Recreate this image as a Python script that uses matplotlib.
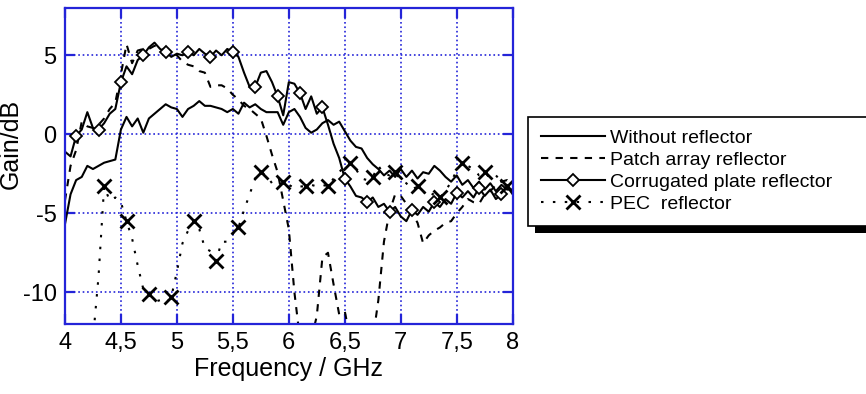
import numpy as np
import matplotlib
matplotlib.use("Agg")
import matplotlib.pyplot as plt
from matplotlib.patches import Rectangle

plt.rcParams['font.family'] = ['Liberation Sans', 'DejaVu Sans']
plt.rcParams['axes.unicode_minus'] = False

# frequency grid (GHz), step 0.05
freq = np.round(np.arange(4.0, 8.0001, 0.05), 2)

without = [-5.7, -3.8, -2.9, -2.7, -2.0, -2.2, -2.0, -1.8, -1.7, -1.6,
           0.3, 1.1, 0.5, 1.0, 0.1, 1.0, 1.3, 1.6, 1.9, 1.7,
           1.6, 1.1, 1.6, 1.8, 2.1, 1.8, 1.8, 1.7, 1.6, 1.4,
           1.6, 1.3, 2.0, 1.7, 1.9, 1.6, 1.4, 1.4, 1.4, 0.6,
           1.4, 1.6, 1.1, 0.4, 0.1, 0.3, 0.7, 0.9, 0.6, 0.8,
           0.2, -0.4, -0.8, -0.9, -1.5, -1.9, -2.2, -2.6, -2.3, -2.7,
           -2.2, -2.7, -2.3, -2.8, -2.4, -2.5, -2.0, -2.3, -2.7, -3.0,
           -2.6, -3.2, -2.9, -3.4, -3.0, -3.5, -3.1, -3.6, -3.2, -3.5,
           -3.5]

patch = [-4.2, -2.0, -1.0, 0.8, 0.5, 0.4, 0.6, 1.0, 1.6, 2.0,
         3.8, 5.7, 4.5, 5.3, 5.4, 5.4, 5.6, 5.5, 5.3, 5.2,
         5.0, 4.6, 4.4, 4.3, 4.0, 3.9, 3.0, 3.1, 3.1, 2.9,
         2.5, 2.2, 1.8, 1.6, 1.3, 1.0, -0.1, -1.3, -2.4, -4.2,
         -6.0, -10.0, -13.0, -13.0, -13.0, -11.5, -7.8, -7.5, -9.5, -11.4,
         -11.2, -13.0, -13.0, -13.0, -13.0, -13.0, -10.5, -6.8, -4.9, -3.8,
         -3.9, -4.4, -5.0, -5.6, -6.9, -6.4, -6.1, -5.9, -5.6, -5.5,
         -5.0, -4.6, -4.1, -4.3, -4.4, -3.8, -3.6, -3.2, -3.0, -2.9,
         -3.2]

corrugated = [-1.1, -1.4, -0.1, 0.3, 1.4, 0.4, 0.3, 0.7, 1.3, 1.6,
              3.3, 4.3, 3.8, 4.7, 5.0, 5.5, 5.8, 5.4, 5.2, 4.9,
              5.1, 5.0, 5.2, 5.0, 5.4, 5.1, 4.9, 5.3, 5.0, 5.4,
              5.2, 4.9, 3.9, 3.0, 3.0, 3.9, 4.0, 3.3, 2.4, 1.2,
              3.3, 3.2, 2.6, 1.6, 2.4, 1.3, 1.7, 0.6, -0.6, -1.5,
              -2.8, -3.3, -3.9, -4.0, -4.3, -4.0, -4.6, -4.4, -4.9, -4.6,
              -5.2, -5.5, -4.8, -5.1, -4.6, -4.9, -4.3, -4.6, -4.1, -4.4,
              -3.7, -4.0, -3.6, -4.0, -3.4, -3.9, -3.5, -4.1, -3.8, -3.3,
              -3.8]

pec = [-13.0, -13.0, -13.0, -13.0, -13.0, -13.0, -9.0, -3.3, -4.2, -4.0,
       -4.3, -5.5, -6.6, -8.3, -9.8, -10.1, -10.6, -10.5, -10.7, -10.3,
       -8.7, -6.9, -6.1, -5.5, -6.0, -7.2, -7.4, -8.0, -6.8, -6.8,
       -6.3, -5.9, -4.8, -3.8, -2.8, -2.4, -2.6, -3.1, -3.3, -3.0,
       -3.2, -3.4, -3.3, -3.3, -3.2, -3.3, -3.2, -3.3, -2.8, -2.4,
       -2.0, -1.8, -2.2, -2.8, -2.9, -2.7, -2.0, -2.5, -2.6, -2.4,
       -2.9, -3.1, -3.5, -3.3, -3.6, -4.0, -3.7, -4.0, -3.6, -3.0,
       -2.3, -1.8, -2.0, -2.2, -2.6, -2.4, -2.8, -2.6, -3.0, -3.3,
       -3.0]

xticks = [4, 4.5, 5, 5.5, 6, 6.5, 7, 7.5, 8]
xticklabels = ["4", "4,5", "5", "5,5", "6", "6,5", "7", "7,5", "8"]
yticks = [-10, -5, 0, 5]

blue = '#2424d8'

fig = plt.figure(figsize=(8.66, 3.94), dpi=100)
ax = fig.add_axes([0.075, 0.178, 0.517, 0.802])

ax.plot(freq, without, color='k', lw=1.5, label='Without reflector')
ax.plot(freq, patch, color='k', lw=1.5, ls=(0, (3.5, 3.5)),
        label='Patch array reflector')
ax.plot(freq, corrugated, color='k', lw=1.5, marker='D', markersize=6.5,
        markerfacecolor='white', markeredgewidth=1.3, markevery=(2, 4),
        label='Corrugated plate reflector')
ax.plot(freq, pec, color='k', lw=1.5, ls=(0, (1.2, 4.5)), marker='x',
        markersize=10, markeredgewidth=2, markevery=(7, 4),
        label='PEC  reflector')

ax.set_xlim(4, 8)
ax.set_ylim(-12, 8)
ax.set_xticks(xticks)
ax.set_xticklabels(xticklabels)
ax.set_yticks(yticks)
ax.grid(True, color=blue, ls=':', lw=1.2)
ax.set_axisbelow(True)
for s in ax.spines.values():
    s.set_color(blue)
    s.set_linewidth(1.6)
ax.tick_params(direction='in', length=7, width=1.6, color=blue,
               top=True, right=True, labelsize=17, pad=6)

ax.set_xlabel("Frequency / GHz", fontsize=18, labelpad=2)
ax.set_ylabel("Gain/dB", fontsize=18)
ax.yaxis.set_label_coords(-0.095, 0.57)

leg = fig.legend(loc='upper left', bbox_to_anchor=(0.6097, 0.703, 0.40, 0.0),
                 mode='expand', fontsize=14, numpoints=1,
                 handlelength=3.3, handletextpad=0.25, labelspacing=0.22,
                 borderpad=0.65, borderaxespad=0, fancybox=False,
                 framealpha=1)
leg.get_frame().set_edgecolor('k')
leg.get_frame().set_linewidth(1.2)

# thick black drop shadow behind the legend box
fig.canvas.draw()
bb = leg.get_frame().get_window_extent()
shadow = Rectangle((bb.x0 + 7, bb.y0 - 7), bb.width, bb.height,
                   transform=None, facecolor='k', edgecolor='none', zorder=4)
fig.patches.append(shadow)

fig.savefig("out.png", dpi=100)
